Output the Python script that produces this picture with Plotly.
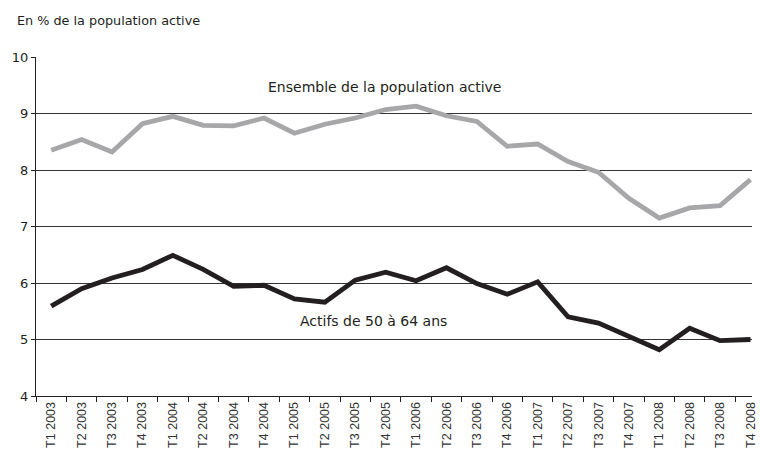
import plotly.graph_objects as go

quarters = [f"T{q} {y}" for y in range(2003, 2009) for q in range(1, 5)]

ensemble = [8.35, 8.54, 8.32, 8.82, 8.95, 8.79, 8.78, 8.92,
            8.65, 8.81, 8.92, 9.07, 9.13, 8.96, 8.86, 8.42,
            8.46, 8.15, 7.96, 7.50, 7.15, 7.33, 7.37, 7.83]

actifs_50_64 = [5.59, 5.90, 6.09, 6.24, 6.49, 6.24, 5.94, 5.96,
                5.72, 5.66, 6.05, 6.19, 6.04, 6.27, 5.99, 5.80,
                6.02, 5.40, 5.29, 5.05, 4.82, 5.20, 4.98, 5.00]

y_ticks = [4, 5, 6, 7, 8, 9, 10]

font_main = "DejaVu Sans"
ink = "#231f20"

fig = go.Figure()
fig.add_trace(go.Scatter(
    x=quarters, y=ensemble, mode="lines",
    line=dict(color="#a7a7a9", width=4.8),
    name="Ensemble de la population active",
))
fig.add_trace(go.Scatter(
    x=quarters, y=actifs_50_64, mode="lines",
    line=dict(color=ink, width=4.8),
    name="Actifs de 50 à 64 ans",
))

# labels
fig.add_annotation(x=-0.029, y=1.109, xref="paper", yref="paper",
                   text="En % de la population active", showarrow=False,
                   xanchor="left", yanchor="middle",
                   font=dict(family=font_main, size=12.8, color=ink))
fig.add_annotation(x=10.95, y=9.47, text="Ensemble de la population active",
                   showarrow=False,
                   font=dict(family=font_main, size=14, color=ink))
fig.add_annotation(x=10.59, y=5.33, text="Actifs de 50 à 64 ans",
                   showarrow=False,
                   font=dict(family=font_main, size=14, color=ink))

fig.update_layout(
    width=760, height=459,
    margin=dict(l=36, r=2, t=57, b=63),
    paper_bgcolor="white", plot_bgcolor="white",
    showlegend=False,
)
fig.update_xaxes(
    type="category", range=[-0.5, 23.05],
    tickangle=-90, tickson="boundaries", ticks="outside", ticklen=5,
    tickcolor=ink, showline=True, linecolor=ink, linewidth=1,
    showgrid=False,
    tickfont=dict(family="Liberation Sans", size=12.5, color="#333333"),
)
fig.update_yaxes(
    range=[4, 10], tickvals=y_ticks, ticks="outside", ticklen=4,
    tickcolor=ink, showline=True, linecolor=ink, linewidth=1,
    showgrid=True, gridcolor="#333333", gridwidth=1, zeroline=False,
    tickfont=dict(family=font_main, size=13, color=ink),
)

fig.write_html(
    "out.html",
    config={"displayModeBar": False},
    post_script="document.body.style.margin='0';document.body.style.overflow='hidden';",
)
